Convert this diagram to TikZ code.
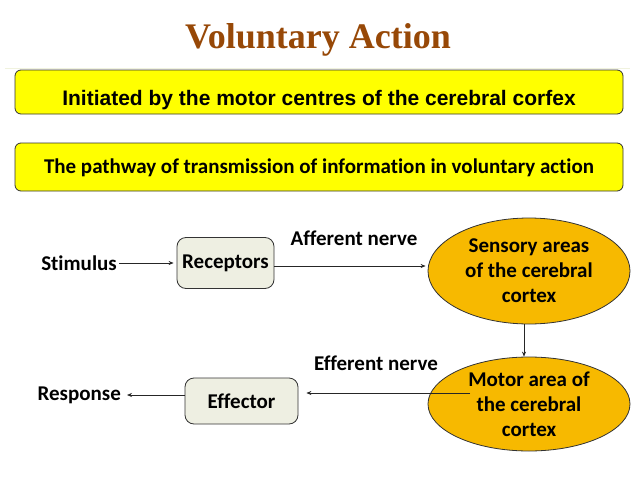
\documentclass[tikz,border=0pt]{standalone}
\usepackage{fontspec}
\setmainfont[Ligatures={NoCommon}]{Carlito}
\newfontfamily\arialf{Liberation Sans}
\newfontfamily\titlef{Liberation Serif}
\usetikzlibrary{arrows.meta,shapes.geometric}
\definecolor{titlebrown}{RGB}{151,72,7}
\definecolor{boxyellow}{RGB}{255,255,0}
\definecolor{gold}{RGB}{247,185,0}
\definecolor{beige}{RGB}{238,239,226}
\tikzset{
  txt/.style={font=\fontsize{21}{25}\selectfont\bfseries, inner sep=0pt},
  banner/.style={draw=black!80, line width=0.8pt, fill=boxyellow, rounded corners=6pt, minimum width=608pt, inner sep=0pt},
  rbox/.style={draw=black!80, line width=0.8pt, fill=beige, rounded corners=9pt, inner sep=0pt, font=\fontsize{21}{25}\selectfont\bfseries},
  oval/.style={ellipse, draw=black!80, line width=0.8pt, fill=gold, inner sep=0pt, align=center, font=\fontsize{21}{25}\selectfont\bfseries},
  arr/.style={draw=black!85, line width=0.7pt, -{Stealth[length=5pt,width=4pt]}}
}
\begin{document}
\begin{tikzpicture}[x=1pt,y=-1pt]
\useasboundingbox (0,0) rectangle (638,479);
\fill[white] (0,0) rectangle (638,479);

\node[font=\fontsize{36}{40}\titlef\bfseries, text=titlebrown, inner sep=0pt] (title) at (318,40) {Voluntary Action};
\draw[draw={rgb,255:red,240;green,242;blue,222}, line width=0.5pt] (5,68) -- (630,68);

\node[banner, minimum height=44pt] (b1) at (319,92) {};
\node[inner sep=0pt, font=\arialf\fontsize{21}{25}\selectfont\bfseries] (t1) at (319,100) {Initiated by the motor centres of the cerebral corfex};
\node[banner, minimum height=48pt] (b2) at (319,167) {};
\node[txt] (t2) at (319,168) {The pathway of transmission of information in voluntary action};

\node[txt, anchor=east] (stim) at (117,263) {Stimulus};
\node[rbox, minimum width=97pt, minimum height=51pt] (rec) at (225.5,263) {Receptors};
\node[txt] (aff) at (354,238) {Afferent nerve};
\node[oval, minimum width=202pt, minimum height=106pt] (sens) at (529,271) {Sensory areas\\of the cerebral\\cortex};
\node[oval, minimum width=202pt, minimum height=94pt] (motor) at (529,404) {Motor area of\\the cerebral\\cortex};
\node[txt] (eff) at (376,363) {Efferent nerve};
\node[rbox, minimum width=113pt, minimum height=46pt] (effr) at (241.5,401) {Effector};
\node[txt, anchor=east] (resp) at (121,395) {Response};

\coordinate (ef) at (470,393);

\draw[arr, shorten <=2pt, shorten >=3pt] (stim.east) -- (rec.west);
\draw[arr, shorten >=2pt] ([yshift=-3pt]rec.east) -- ([yshift=-3pt]rec.east -| sens.west);
\draw[arr] ([xshift=-5pt]sens.south) -- ([xshift=-5pt]motor.north);
\draw[arr, shorten >=8pt] (ef) -- (ef -| effr.east);
\draw[arr] (effr.west |- resp.east) -- ([xshift=6pt]resp.east);
\end{tikzpicture}
\end{document}
